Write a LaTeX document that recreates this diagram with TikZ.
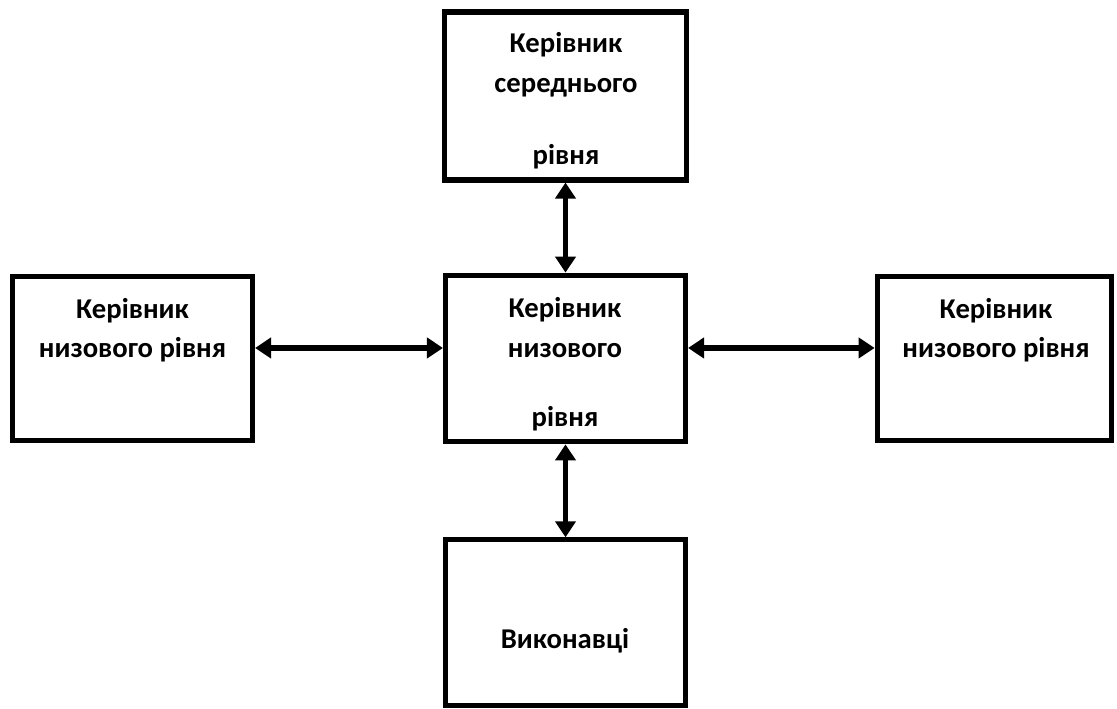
\documentclass[tikz,border=0pt]{standalone}
\usepackage{fontspec}
\setmainfont{Carlito}
\usetikzlibrary{arrows.meta}

\begin{document}
\begin{tikzpicture}[x=0.75pt, y=-0.75pt,
  box/.style={draw, line width=3.8pt, inner sep=0pt, minimum width=180pt, minimum height=123pt},
  label/.style={anchor=base, inner sep=0pt, font=\bfseries\fontsize{21.5}{26}\selectfont},
  link/.style={line width=3.8pt, {Triangle[length=12pt,width=15pt]}-{Triangle[length=12pt,width=15pt]}}]
\useasboundingbox (0,0) rectangle (1117,709);
% boxes
\node[box, minimum width=181.5pt, minimum height=126pt] (middle) at (565.5,96) {};
\node[box, minimum height=125pt] (lower) at (565.5,358.5) {};
\node[box] (left) at (132.5,358.5) {};
\node[box, minimum width=176pt] (right) at (994.5,358.5) {};
\node[box, minimum height=124pt] (staff) at (565.5,622.5) {};
% texts
\node[label] (middleA) at (566,52.5) {Керівник};
\node[label] (middleB) at (566,93) {середнього};
\node[label] (middleC) at (566,165) {рівня};
\node[label] (lowerA) at (565,317) {Керівник};
\node[label] (lowerB) at (565,357) {низового};
\node[label] (lowerC) at (565,426) {рівня};
\node[label] (leftA) at (132.5,318) {Керівник};
\node[label] (leftB) at (132.5,357) {низового рівня};
\node[label] (rightA) at (996,318) {Керівник};
\node[label] (rightB) at (996,357) {низового рівня};
\node[label] (staffA) at (565,648) {Виконавці};
% links
\draw[link] (middle.south) -- (lower.north);
\draw[link] ([yshift=7.9pt]left.east) -- ([yshift=7.9pt]lower.west);
\draw[link] ([yshift=7.9pt]lower.east) -- ([yshift=7.9pt]right.west);
\draw[link] (lower.south) -- (staff.north);
\end{tikzpicture}
\end{document}
